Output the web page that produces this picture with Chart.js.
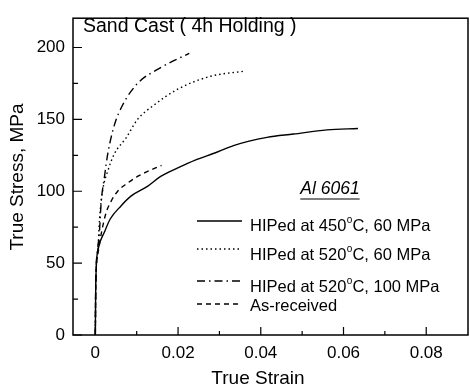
<!DOCTYPE html>
<html>
<head>
<meta charset="utf-8">
<script src="https://cdn.jsdelivr.net/npm/chart.js@4"></script>
<style>
  html, body { margin: 0; padding: 0; background: #fff; }
  #wrap { width: 470px; height: 390px; }
</style>
</head>
<body>
<div id="wrap"><canvas id="chart" width="470" height="390"></canvas></div>
<script>
// values (true strain, true stress MPa)
const strain450 = [0, 0.0001, 0.0007, 0.0022, 0.0036, 0.0062, 0.0086, 0.0126, 0.0158, 0.0206, 0.024, 0.0295, 0.0334, 0.0415, 0.0479, 0.056, 0.0635];
const stress450 = [0, 35.5, 60, 71.6, 80.7, 89.8, 96.6, 103.4, 110.3, 117.1, 121.5, 127.3, 131.8, 137.5, 139.8, 142.7, 143.7];

const strain520 = [0, 0.0001, 0.0006, 0.001, 0.0018, 0.003, 0.0046, 0.0074, 0.0102, 0.0142, 0.0199, 0.0279, 0.0359];
const stress520 = [0, 35, 58, 80, 101, 114, 126, 137, 150, 160, 171, 180, 183.5];

const strain520h = [0, 0.0001, 0.0005, 0.001, 0.0014, 0.0022, 0.003, 0.0046, 0.0066, 0.0102, 0.0158, 0.0227];
const stress520h = [0, 35, 58, 72, 92, 110, 126, 146, 160, 175, 186, 196];

const strainAsRec = [0, 0.0001, 0.0007, 0.0015, 0.0026, 0.0038, 0.0054, 0.0078, 0.0102, 0.0134, 0.016];
const stressAsRec = [0, 35, 58, 71.6, 85, 93, 100, 105.7, 110.3, 114.8, 118];

const xTicks = [0, 0.02, 0.04, 0.06, 0.08];
const yTicks = [0, 50, 100, 150, 200];
const xMinor = [0.01, 0.03, 0.05, 0.07];
const yMinor = [25, 75, 125, 175];

const seriesNames = ['HIPed at 450', 'HIPed at 520', 'HIPed at 520', 'As-received'];
const seriesTails = ['C, 60 MPa', 'C, 60 MPa', 'C, 100 MPa', ''];

const FONT = '"Liberation Sans", Arial, Helvetica, sans-serif';

const pts = (xs, ys) => xs.map((x, i) => ({ x: x, y: ys[i] }));

const dashes = [[], [1.5, 3], [8, 4, 1.5, 4], [5, 4]];

function mkSet(label, xs, ys, dash) {
  return {
    label: label,
    data: pts(xs, ys),
    borderColor: '#000',
    borderWidth: 1.4,
    borderDash: dash,
    pointRadius: 0,
    fill: false,
    showLine: true,
    cubicInterpolationMode: 'monotone'
  };
}

// frame, inside ticks, titles and the hand placed legend
const decor = {
  id: 'decor',
  afterDraw(chart) {
    const ctx = chart.ctx;
    const a = chart.chartArea;
    const xs = chart.scales.x, ys = chart.scales.y;
    ctx.save();
    ctx.strokeStyle = '#000';
    ctx.lineWidth = 1.5;
    ctx.strokeRect(a.left, a.top, a.right - a.left, a.bottom - a.top);

    ctx.lineWidth = 1.2;
    ctx.beginPath();
    xTicks.forEach(v => { const p = xs.getPixelForValue(v); ctx.moveTo(p, a.bottom); ctx.lineTo(p, a.bottom - 8); });
    xMinor.forEach(v => { const p = xs.getPixelForValue(v); ctx.moveTo(p, a.bottom); ctx.lineTo(p, a.bottom - 4); });
    yTicks.forEach(v => { const p = ys.getPixelForValue(v); ctx.moveTo(a.left, p); ctx.lineTo(a.left + 9, p); });
    yMinor.forEach(v => { const p = ys.getPixelForValue(v); ctx.moveTo(a.left, p); ctx.lineTo(a.left + 5, p); });
    ctx.stroke();

    ctx.fillStyle = '#000';
    ctx.textBaseline = 'middle';

    // axis titles
    ctx.font = '19px ' + FONT;
    ctx.textAlign = 'center';
    ctx.fillText('True Strain', 258, 379);
    ctx.save();
    ctx.translate(18, 177);
    ctx.rotate(-Math.PI / 2);
    ctx.fillText('True Stress, MPa', 0, 0);
    ctx.restore();

    // header
    ctx.textAlign = 'left';
    ctx.font = '19.5px ' + FONT;
    ctx.fillText('Sand Cast ( 4h Holding )', 83, 27);

    // alloy label, underlined
    ctx.font = 'italic 17.5px ' + FONT;
    ctx.textAlign = 'center';
    ctx.fillText('Al 6061', 330, 189);
    const w = ctx.measureText('Al 6061').width;
    ctx.lineWidth = 1.2;
    ctx.beginPath();
    ctx.moveTo(330 - w / 2, 199);
    ctx.lineTo(330 + w / 2, 199);
    ctx.stroke();

    // legend rows
    const rowText = [226, 255, 287, 306];
    const rowLine = [221, 249, 281, 304];
    ctx.textAlign = 'left';
    for (let i = 0; i < 4; i++) {
      ctx.setLineDash(dashes[i]);
      ctx.lineWidth = 1.3;
      ctx.beginPath();
      ctx.moveTo(197, rowLine[i]);
      ctx.lineTo(242, rowLine[i]);
      ctx.stroke();
      ctx.setLineDash([]);
      ctx.font = '16.5px ' + FONT;
      let x = 250;
      ctx.fillText(seriesNames[i], x, rowText[i]);
      if (seriesTails[i]) {
        x += ctx.measureText(seriesNames[i]).width;
        ctx.font = '10px ' + FONT;
        ctx.fillText('o', x + 0.5, rowText[i] - 6);
        x += ctx.measureText('o').width + 0.5;
        ctx.font = '16.5px ' + FONT;
        ctx.fillText(seriesTails[i], x, rowText[i]);
      }
    }
    ctx.restore();
  }
};

new Chart(document.getElementById('chart'), {
  type: 'scatter',
  data: {
    datasets: [
      mkSet('HIPed at 450°C, 60 MPa', strain450, stress450, dashes[0]),
      mkSet('HIPed at 520°C, 60 MPa', strain520, stress520, dashes[1]),
      mkSet('HIPed at 520°C, 100 MPa', strain520h, stress520h, dashes[2]),
      mkSet('As-received', strainAsRec, stressAsRec, dashes[3])
    ]
  },
  options: {
    responsive: false,
    animation: false,
    layout: { padding: { top: 12, right: 2, left: 0, bottom: 0 } },
    plugins: { legend: { display: false }, tooltip: { enabled: false } },
    scales: {
      x: {
        type: 'linear',
        min: -0.0054,
        max: 0.0901,
        afterFit: s => { s.height = 55; },
        grid: { display: false, drawTicks: false },
        border: { display: false },
        ticks: {
          stepSize: 0.02,
          includeBounds: false,
          padding: 8,
          color: '#000',
          font: { family: FONT, size: 17 },
          callback: v => Math.abs(v) < 1e-9 ? '0' : v.toFixed(2)
        }
      },
      y: {
        type: 'linear',
        min: 0,
        max: 220.4,
        afterFit: s => { s.width = 73; },
        grid: { display: false, drawTicks: false },
        border: { display: false },
        ticks: {
          stepSize: 50,
          includeBounds: false,
          padding: 8,
          color: '#000',
          font: { family: FONT, size: 17 }
        }
      }
    }
  },
  plugins: [decor]
});
</script>
</body>
</html>
